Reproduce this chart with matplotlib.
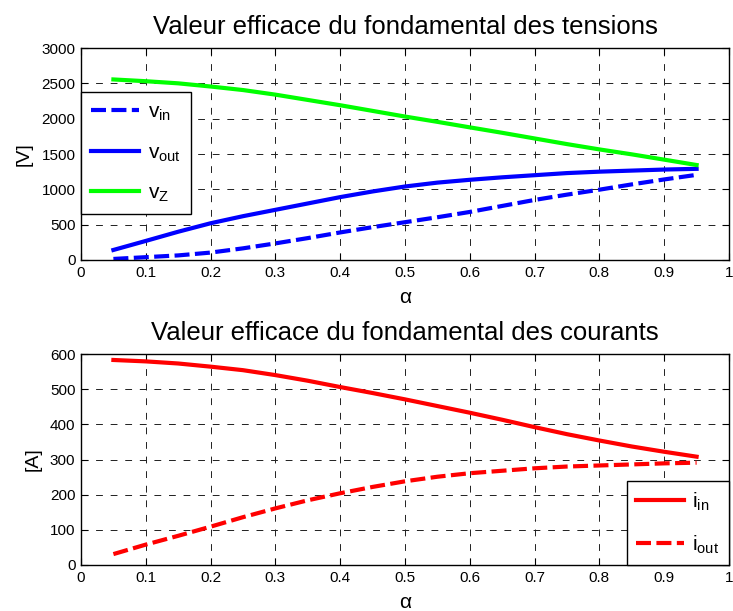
import matplotlib
matplotlib.use("Agg")
import matplotlib.pyplot as plt
import numpy as np

plt.rcParams['font.family'] = ['Liberation Sans', 'DejaVu Sans']
plt.rcParams['mathtext.fontset'] = 'custom'
plt.rcParams['mathtext.rm'] = 'Liberation Sans'

alpha = [0.05, 0.10, 0.15, 0.20, 0.25, 0.30, 0.35, 0.40, 0.45, 0.50,
         0.55, 0.60, 0.65, 0.70, 0.75, 0.80, 0.85, 0.90, 0.95]

v_in = [15, 40, 65, 105, 165, 235, 310, 390, 465, 535,
        605, 680, 765, 850, 925, 995, 1070, 1140, 1205]
v_out = [142, 270, 400, 520, 620, 710, 800, 890, 970, 1040,
         1095, 1135, 1170, 1200, 1230, 1250, 1265, 1280, 1290]
v_Z = [2555, 2530, 2500, 2455, 2405, 2340, 2265, 2190, 2110, 2030,
       1955, 1877, 1800, 1720, 1640, 1565, 1495, 1420, 1344]

i_in = [583, 579, 573, 564, 554, 540, 524, 506, 489, 471,
        452, 433, 413, 392, 372, 354, 337, 322, 308]
i_out = [31, 58, 83, 109, 136, 161, 184, 204, 222, 238,
         251, 261, 268, 275, 280, 283, 286, 289, 291]

x_ticks = [0, 0.1, 0.2, 0.3, 0.4, 0.5, 0.6, 0.7, 0.8, 0.9, 1]
x_ticklabels = ['0', '0.1', '0.2', '0.3', '0.4', '0.5', '0.6', '0.7', '0.8', '0.9', '1']
v_ticks = [0, 500, 1000, 1500, 2000, 2500, 3000]
i_ticks = [0, 100, 200, 300, 400, 500, 600]

W, H = 733, 611
fig = plt.figure(figsize=(W / 100, H / 100), dpi=100)

ax1 = fig.add_axes([81 / W, 1 - 260 / H, 648 / W, 212 / H])
ax2 = fig.add_axes([81 / W, 1 - 565 / H, 648 / W, 211 / H])

lw = 3.0
dash = (0, (3.6, 1.3))
blue = '#0000ff'
green = '#00ff00'
red = '#ff0000'

ax1.plot(alpha, v_in, color=blue, lw=lw, ls=dash, label=r'v$_{\mathregular{in}}$')
ax1.plot(alpha, v_out, color=blue, lw=lw, label=r'v$_{\mathregular{out}}$')
ax1.plot(alpha, v_Z, color=green, lw=lw, label=r'v$_{\mathregular{Z}}$')

ax2.plot(alpha, i_in, color=red, lw=lw, label=r'i$_{\mathregular{in}}$')
ax2.plot(alpha, i_out, color=red, lw=lw, ls=dash, label=r'i$_{\mathregular{out}}$')

for ax, yt, title, ylab in [(ax1, v_ticks, 'Valeur efficace du fondamental des tensions', '[V]'),
                            (ax2, i_ticks, 'Valeur efficace du fondamental des courants', '[A]')]:
    ax.set_xlim(0, 1)
    ax.set_ylim(yt[0], yt[-1])
    ax.set_xticks(x_ticks)
    ax.set_xticklabels(x_ticklabels)
    ax.set_yticks(yt)
    ax.grid(True, color='#202020', ls=(0, (7, 8)), lw=0.7)
    ax.tick_params(direction='in', length=5, labelsize=11, colors='black', top=True, right=True, pad=4)
    for s in ax.spines.values():
        s.set_linewidth(1.0)
    ax.set_title(title, fontsize=18.5, pad=10)
    ax.set_xlabel('α', fontsize=15, labelpad=6)
    ax.set_ylabel(ylab, fontsize=14, labelpad=6)

leg1 = ax1.legend(loc='upper left', bbox_to_anchor=(0.0, 0.792), fontsize=15,
                  frameon=True, fancybox=False, edgecolor='black', framealpha=1,
                  handlelength=2.3, handletextpad=0.4, borderaxespad=0,
                  labelspacing=0.95, borderpad=0.5)
leg1.get_frame().set_linewidth(1.0)
leg2 = ax2.legend(loc='lower right', fontsize=15,
                  frameon=True, fancybox=False, edgecolor='black', framealpha=1,
                  handlelength=2.3, handletextpad=0.4, borderaxespad=0,
                  labelspacing=0.95, borderpad=0.45)
leg2.get_frame().set_linewidth(1.0)

fig.savefig('out.png', dpi=100)
